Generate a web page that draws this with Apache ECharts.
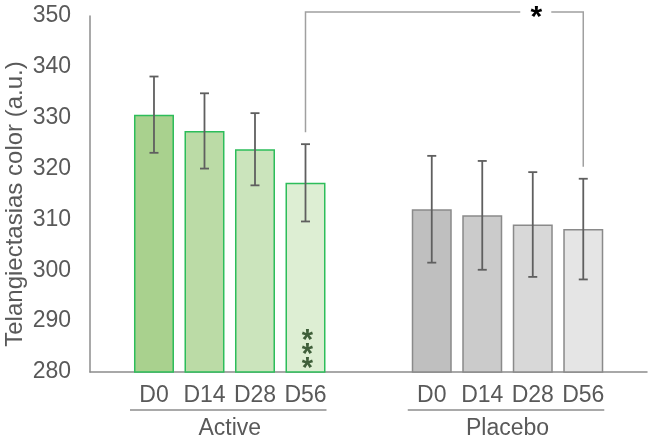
<!DOCTYPE html>
<html>
<head>
<meta charset="utf-8">
<script src="https://cdn.jsdelivr.net/npm/echarts@6/dist/echarts.min.js"></script>
<style>
  html, body { margin: 0; padding: 0; background: #fff; }
  #chart { width: 650px; height: 441px; }
</style>
</head>
<body>
<div id="chart"></div>
<script>
// data
const groups = ['Active', 'Placebo'];
const days = ['D0', 'D14', 'D28', 'D56'];
const activeMean = [330.6, 327.4, 323.8, 317.2];
const activeErr = [7.5, 7.4, 7.1, 7.6];
const placeboMean = [312.0, 310.8, 309.0, 308.1];
const placeboErr = [10.5, 10.7, 10.3, 9.9];
const yMin = 280, yMax = 350, yStep = 10;

// styles
const activeFill = ['#a9d18e', '#bbdba6', '#cbe4bc', '#ddeed3'];
const placeboFill = ['#bfbfbf', '#cbcbcb', '#d8d8d8', '#e5e5e5'];
const textColor = '#595959';
const axisColor = '#8c8c8c';
const FONT = '"Liberation Sans", Arial, sans-serif';

// x position of each bar: groups side by side with a wider gap between them
const groupStart = [0, 5.5];
let bars = [];
[activeMean, placeboMean].forEach(function (means, g) {
    means.forEach(function (v, i) {
        bars.push({
            x: groupStart[g] + i,
            y: v,
            err: (g === 0 ? activeErr : placeboErr)[i],
            label: days[i],
            group: g
        });
    });
});

let chart = echarts.init(document.getElementById('chart'), null, {renderer: 'canvas'});

let option = {
    animation: false,
    grid: {left: 90, right: 3, top: 16, bottom: 69, outerBoundsMode: 'none'},
    xAxis: {
        type: 'value',
        min: -1.267,
        max: 9.762,
        splitLine: {show: false},
        axisLine: {show: true, onZero: false, lineStyle: {color: axisColor, width: 1.5}},
        axisTick: {show: false},
        axisLabel: {
            customValues: bars.map(function (b) { return b.x; }),
            formatter: function (v) {
                let b = bars.find(function (d) { return Math.abs(d.x - v) < 1e-6; });
                return b ? b.label : '';
            },
            color: textColor,
            fontFamily: FONT,
            fontSize: 23,
            margin: 12
        }
    },
    yAxis: {
        type: 'value',
        min: yMin,
        max: yMax,
        interval: yStep,
        name: 'Telangiectasias color (a.u.)',
        nameLocation: 'middle',
        nameGap: 63,
        nameMoveOverlap: false,
        nameTextStyle: {color: textColor, fontFamily: FONT, fontSize: 24, padding: [0, 20, 0, 0]},
        splitLine: {show: false},
        axisLine: {show: true, onZero: false, lineStyle: {color: axisColor, width: 1.5}},
        axisTick: {show: false},
        axisLabel: {color: textColor, fontFamily: FONT, fontSize: 23, margin: 19}
    },
    series: [
        {
            type: 'bar',
            barWidth: 40,
            data: bars.map(function (b, k) {
                let fill = b.group === 0 ? activeFill[k % 4] : placeboFill[k % 4];
                return {
                    value: [b.x, b.y],
                    itemStyle: {
                        color: fill,
                        borderColor: b.group === 0 ? '#2dbd5a' : '#8a8a8a',
                        borderWidth: 1.5
                    }
                };
            })
        },
        {
            // error bars
            type: 'custom',
            data: bars.map(function (b) { return [b.x, b.y - b.err, b.y + b.err]; }),
            renderItem: function (params, api) {
                let lo = api.coord([api.value(0), api.value(1)]);
                let hi = api.coord([api.value(0), api.value(2)]);
                let w = 4.5;
                let st = {stroke: '#5f5f5f', lineWidth: 1.8};
                return {
                    type: 'group',
                    children: [
                        {type: 'line', shape: {x1: lo[0], y1: lo[1], x2: hi[0], y2: hi[1]}, style: st},
                        {type: 'line', shape: {x1: lo[0] - w, y1: lo[1], x2: lo[0] + w, y2: lo[1]}, style: st},
                        {type: 'line', shape: {x1: hi[0] - w, y1: hi[1], x2: hi[0] + w, y2: hi[1]}, style: st}
                    ]
                };
            },
            z: 5
        },
        {
            // significance bracket between Active D56 and Placebo D56, and *** in Active D56
            type: 'custom',
            clip: false,
            data: [[bars[3].x, bars[3].y + bars[3].err, bars[7].x, bars[7].y + bars[7].err]],
            renderItem: function (params, api) {
                let a = api.coord([api.value(0), api.value(1)]);
                let b = api.coord([api.value(2), api.value(3)]);
                let top = api.coord([api.value(0), yMax])[1] - 4;
                let base = api.coord([api.value(0), yMin])[1];
                let starX = b[0] - 47;
                let st = {stroke: '#a0a0a0', lineWidth: 1.5, fill: null};
                let starStyle = {font: 'bold 29px ' + FONT, fill: '#3f5f3a', align: 'center', verticalAlign: 'middle'};
                return {
                    type: 'group',
                    children: [
                        {type: 'polyline', shape: {points: [[a[0], a[1] - 12], [a[0], top], [starX - 16, top]]}, style: st},
                        {type: 'polyline', shape: {points: [[starX + 15, top], [b[0], top], [b[0], b[1] - 12]]}, style: st},
                        {type: 'text', style: {text: '*', x: starX, y: top + 6, align: 'center', verticalAlign: 'middle',
                            font: 'bold 30px ' + FONT, fill: '#000'}},
                        {type: 'text', style: Object.assign({text: '*', x: a[0] + 2, y: base - 31}, starStyle)},
                        {type: 'text', style: Object.assign({text: '*', x: a[0] + 2, y: base - 17}, starStyle)},
                        {type: 'text', style: Object.assign({text: '*', x: a[0] + 2, y: base - 3}, starStyle)}
                    ]
                };
            },
            z: 6
        },
        {
            // group labels under the category labels
            type: 'custom',
            clip: false,
            data: groups.map(function (g, gi) { return [groupStart[gi], groupStart[gi] + days.length - 1, gi]; }),
            renderItem: function (params, api) {
                let l = api.coord([api.value(0), yMin]);
                let r = api.coord([api.value(1), yMin]);
                let y = l[1];
                return {
                    type: 'group',
                    children: [
                        {type: 'line', shape: {x1: l[0] - 24, y1: y + 38, x2: r[0] + 21, y2: y + 38},
                            style: {stroke: axisColor, lineWidth: 1.5}},
                        {type: 'text', style: {text: groups[api.value(2)], x: (l[0] + r[0]) / 2, y: y + 57,
                            align: 'center', verticalAlign: 'middle', font: '23px ' + FONT, fill: textColor}}
                    ]
                };
            }
        }
    ]
};

chart.setOption(option);
window.onresize = function () {
    chart.resize();
};
</script>
</body>
</html>
